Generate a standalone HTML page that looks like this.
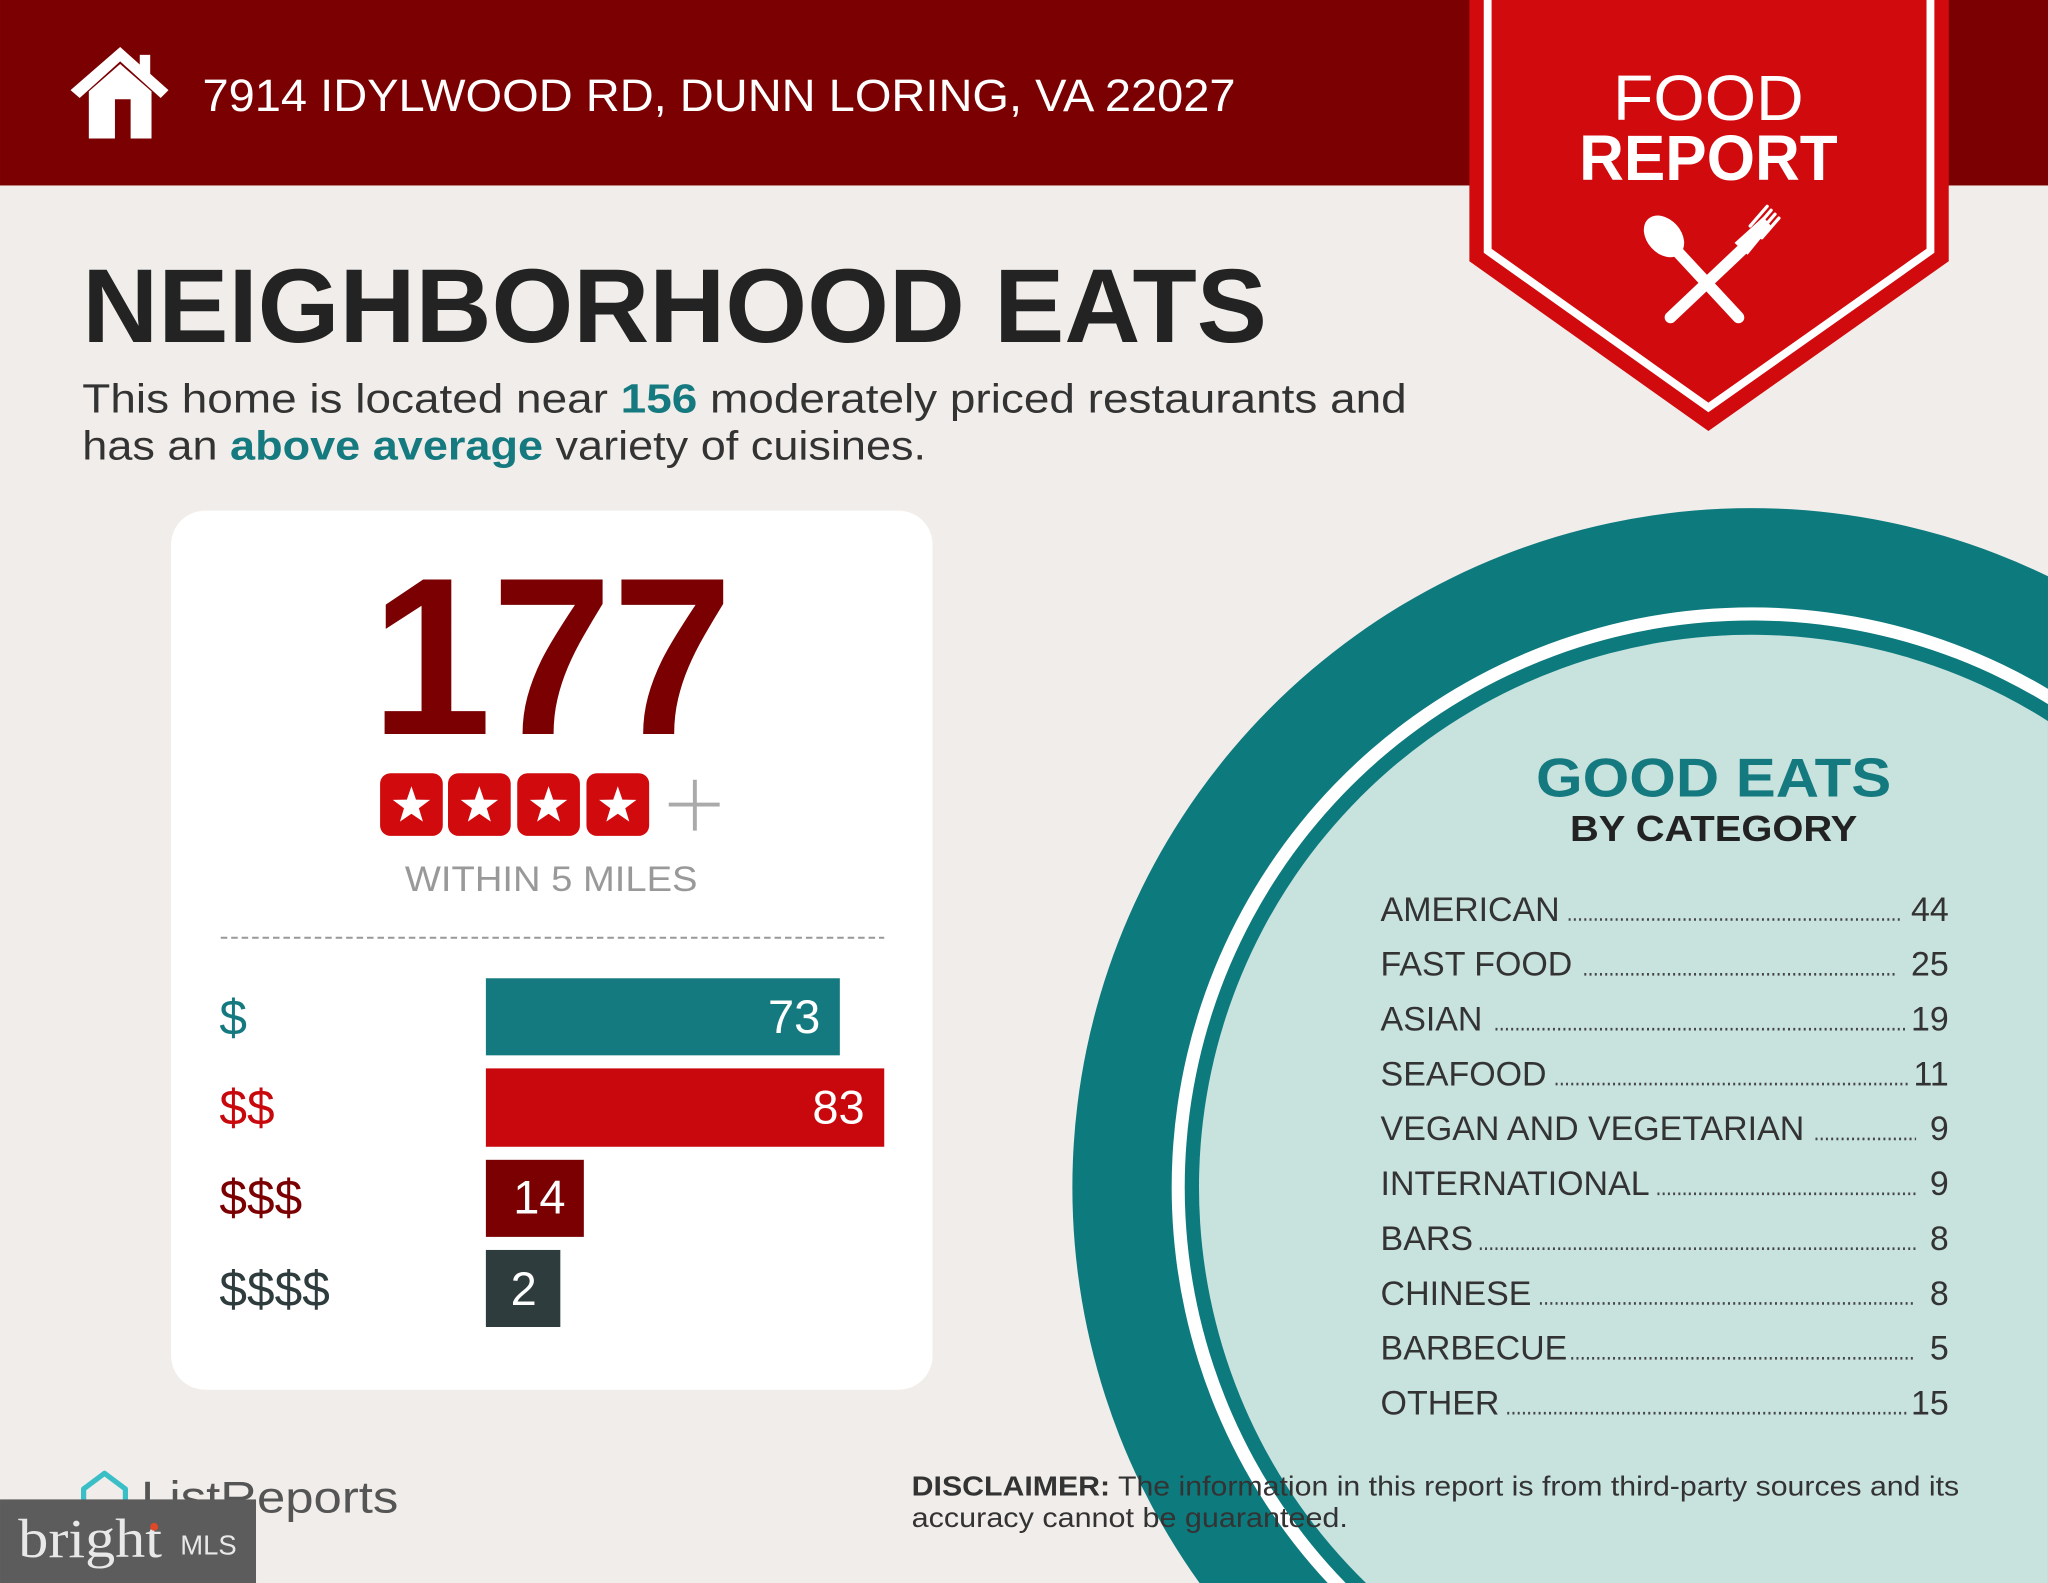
<!DOCTYPE html>
<html><head><meta charset="utf-8"><style>
html,body{margin:0;padding:0;background:#f1edea;width:2048px;height:1583px;overflow:hidden;}
svg{display:block;overflow:hidden}
</style></head><body>
<svg width="2048" height="1583" viewBox="0 0 1568 1212" xmlns="http://www.w3.org/2000/svg" font-family="Liberation Sans, sans-serif">
<defs>
<polygon id="st" points="0,-15 3.5,-4.8 14.3,-4.6 5.7,1.8 8.8,12.1 0,6 -8.8,12.1 -5.7,1.8 -14.3,-4.6 -3.5,-4.8" fill="#fff"/>
</defs>
<rect width="1568" height="1212" fill="#f1edea"/>
<path d="M918.4,1212 A520,520 0 0 1 1568,441.2 L1568,1212 Z" fill="#0d7a7e"/>
<path d="M1016.5,1212 A444,444 0 0 1 1568,527.4 L1568,1212 Z" fill="#fff"/>
<path d="M1030.3,1212 A434,434 0 0 1 1568,539.1 L1568,1212 Z" fill="#0d7a7e"/>
<path d="M1045.8,1212 A423,423 0 0 1 1568,552.1 L1568,1212 Z" fill="#c8e2de"/>
<rect width="1568" height="142" fill="#7b0002"/>
<g fill="#fff">
<polygon points="92,36 129,69 123,75 92,47 61,75 54,69"/>
<rect x="107" y="42" width="8" height="18"/>
<path d="M68,70 L92,49 L116,70 L116,106 L100,106 L100,76 L88,76 L88,106 L68,106 Z"/>
</g>
<text x="155" y="85" font-size="35" fill="#fff" textLength="791" lengthAdjust="spacingAndGlyphs">7914 IDYLWOOD RD, DUNN LORING, VA 22027</text>
<polygon points="1125,0 1492,0 1492,200 1308,330 1125,200" fill="#d10a0e"/>
<polyline points="1139,0 1139,192 1308,312 1478,192 1478,0" fill="none" stroke="#fff" stroke-width="6"/>
<text x="1308" y="92" font-size="49" fill="#fff" text-anchor="middle" textLength="146" lengthAdjust="spacingAndGlyphs">FOOD</text>
<text x="1308" y="138" font-size="49" fill="#fff" text-anchor="middle" font-weight="bold" textLength="198" lengthAdjust="spacingAndGlyphs">REPORT</text>
<g stroke="#fff" stroke-linecap="round" fill="#fff">
<line x1="1280" y1="188" x2="1331" y2="243" stroke-width="9"/>
<ellipse cx="1274" cy="181" rx="13" ry="18" transform="rotate(-42 1274 181)" stroke="none"/>
<line x1="1335" y1="190" x2="1279" y2="243" stroke-width="9"/>
<path d="M1328,186 L1350,166 L1356,173 L1338,195 Z" stroke="none"/>
<g stroke-width="2.5"><line x1="1343" y1="176" x2="1356" y2="161"/><line x1="1346" y1="179" x2="1359" y2="164"/><line x1="1349" y1="182" x2="1362" y2="167"/><line x1="1340" y1="173" x2="1353" y2="158"/></g>
</g>
<text x="63" y="262" font-size="80" font-weight="bold" fill="#232323" textLength="907" lengthAdjust="spacingAndGlyphs">NEIGHBORHOOD EATS</text>
<text x="63" y="316" font-size="31" fill="#333" textLength="1014" lengthAdjust="spacingAndGlyphs">This home is located near <tspan fill="#157a7f" font-weight="bold">156</tspan> moderately priced restaurants and</text>
<text x="63" y="352" font-size="31" fill="#333" textLength="646" lengthAdjust="spacingAndGlyphs">has an <tspan fill="#157a7f" font-weight="bold">above average</tspan> variety of cuisines.</text>
<rect x="131" y="391" width="583" height="673" rx="26" fill="#fff"/>
<text x="284" y="562" font-size="172" font-weight="bold" fill="#7a0002" textLength="277" lengthAdjust="spacingAndGlyphs">177</text>
<g>
<rect x="291" y="592" width="48" height="48" rx="8" fill="#d10a0e"/>
<rect x="343" y="592" width="48" height="48" rx="8" fill="#d10a0e"/>
<rect x="396" y="592" width="48" height="48" rx="8" fill="#d10a0e"/>
<rect x="449" y="592" width="48" height="48" rx="8" fill="#d10a0e"/>
<use href="#st" x="315" y="617"/><use href="#st" x="367" y="617"/><use href="#st" x="420" y="617"/><use href="#st" x="473" y="617"/>
<line x1="512" y1="616" x2="551" y2="616" stroke="#aaa" stroke-width="3"/>
<line x1="532" y1="597" x2="532" y2="636" stroke="#aaa" stroke-width="3"/>
</g>
<text x="422" y="682" font-size="27" fill="#999" text-anchor="middle" textLength="224" lengthAdjust="spacingAndGlyphs">WITHIN 5 MILES</text>
<line x1="169" y1="718" x2="677" y2="718" stroke="#999" stroke-width="1.5" stroke-dasharray="5,3"/>
<g font-size="38">
<text x="168" y="792" fill="#157a7f">$</text>
<text x="168" y="861" fill="#c8080c">$$</text>
<text x="168" y="930" fill="#7a0002">$$$</text>
<text x="168" y="1000" fill="#2e3c3d">$$$$</text>
</g>
<rect x="372" y="749" width="271" height="59" fill="#157a7f"/>
<rect x="372" y="818" width="305" height="60" fill="#c8080c"/>
<rect x="372" y="888" width="75" height="59" fill="#7a0002"/>
<rect x="372" y="957" width="57" height="59" fill="#2e3c3d"/>
<g font-size="36" fill="#fff" text-anchor="end">
<text x="628" y="791">73</text>
<text x="662" y="860">83</text>
<text x="433" y="929">14</text>
</g>
<text x="401" y="999" font-size="36" fill="#fff" text-anchor="middle">2</text>
<text x="1312" y="610" font-size="42" font-weight="bold" fill="#157a7f" text-anchor="middle" textLength="272" lengthAdjust="spacingAndGlyphs">GOOD EATS</text>
<text x="1312" y="644" font-size="28" font-weight="bold" fill="#222" text-anchor="middle" textLength="220" lengthAdjust="spacingAndGlyphs">BY CATEGORY</text>
<g font-size="26" fill="#333">
<text x="1057" y="705">AMERICAN</text><text x="1492" y="705" text-anchor="end">44</text>
<text x="1057" y="747">FAST FOOD</text><text x="1492" y="747" text-anchor="end">25</text>
<text x="1057" y="789">ASIAN</text><text x="1492" y="789" text-anchor="end">19</text>
<text x="1057" y="831">SEAFOOD</text><text x="1492" y="831" text-anchor="end">11</text>
<text x="1057" y="873">VEGAN AND VEGETARIAN</text><text x="1492" y="873" text-anchor="end">9</text>
<text x="1057" y="915">INTERNATIONAL</text><text x="1492" y="915" text-anchor="end">9</text>
<text x="1057" y="957">BARS</text><text x="1492" y="957" text-anchor="end">8</text>
<text x="1057" y="999">CHINESE</text><text x="1492" y="999" text-anchor="end">8</text>
<text x="1057" y="1041">BARBECUE</text><text x="1492" y="1041" text-anchor="end">5</text>
<text x="1057" y="1083">OTHER</text><text x="1492" y="1083" text-anchor="end">15</text>
</g>
<g stroke="#444" stroke-width="2" stroke-dasharray="1.5,2.5">
<line x1="1201" y1="704" x2="1455" y2="704"/>
<line x1="1213" y1="746" x2="1453" y2="746"/>
<line x1="1145" y1="788" x2="1460" y2="788"/>
<line x1="1191" y1="830" x2="1462" y2="830"/>
<line x1="1390" y1="872" x2="1467" y2="872"/>
<line x1="1269" y1="914" x2="1467" y2="914"/>
<line x1="1133" y1="956" x2="1467" y2="956"/>
<line x1="1179" y1="998" x2="1467" y2="998"/>
<line x1="1203" y1="1040" x2="1467" y2="1040"/>
<line x1="1154" y1="1082" x2="1460" y2="1082"/>
</g>
<text x="698" y="1145" font-size="21" fill="#333" textLength="802" lengthAdjust="spacingAndGlyphs"><tspan font-weight="bold">DISCLAIMER:</tspan> The information in this report is from third-party sources and its</text>
<text x="698" y="1169" font-size="21" fill="#333" textLength="334" lengthAdjust="spacingAndGlyphs">accuracy cannot be guaranteed.</text>
<path d="M64,1152 L64,1140 L80,1128 L96,1140 L96,1152" fill="none" stroke="#3bbfc6" stroke-width="4" stroke-linejoin="round"/>
<text x="108" y="1158" font-size="34" fill="#555" textLength="197" lengthAdjust="spacingAndGlyphs">ListReports</text>
<rect x="0" y="1148" width="196" height="64" fill="#5c5c5c"/>
<text x="14" y="1192" font-size="42" fill="#e8e8e8" font-family="Liberation Serif, serif" textLength="110" lengthAdjust="spacingAndGlyphs">bright</text>
<circle cx="118" cy="1169" r="3" fill="#e0482a"/>
<text x="138" y="1190" font-size="21" fill="#e8e8e8">MLS</text>
</svg>
</body></html>
